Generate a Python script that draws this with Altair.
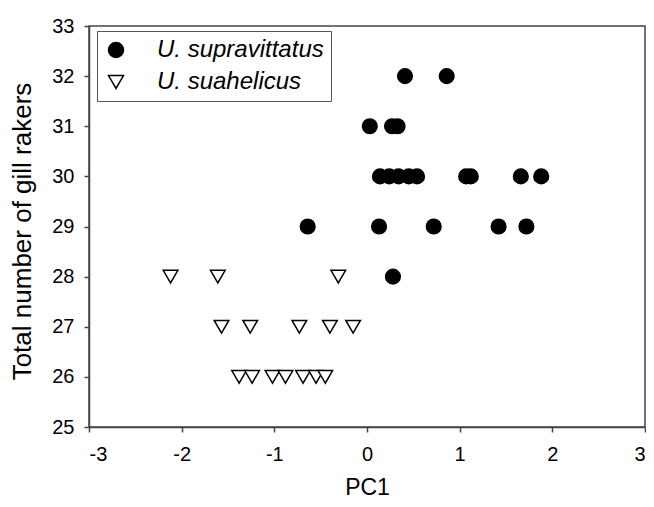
import altair as alt
import pandas as pd

species = ["U. supravittatus", "U. suahelicus"]

sup_x = [0.41, 0.86,
         0.03, 0.27, 0.33,
         0.14, 0.24, 0.34, 0.45, 0.54, 1.07, 1.12, 1.66, 1.88,
         -0.64, 0.13, 0.72, 1.42, 1.72,
         0.28]
sup_y = [32, 32,
         31, 31, 31,
         30, 30, 30, 30, 30, 30, 30, 30, 30,
         29, 29, 29, 29, 29,
         28]

sua_x = [-2.12, -1.61, -0.31,
         -1.57, -1.26, -0.73, -0.40, -0.15,
         -1.38, -1.24, -1.02, -0.88, -0.69, -0.55, -0.45]
sua_y = [28, 28, 28,
         27, 27, 27, 27, 27,
         26, 26, 26, 26, 26, 26, 26]

x_ticks = [-3, -2, -1, 0, 1, 2, 3]
y_ticks = [25, 26, 27, 28, 29, 30, 31, 32, 33]

df = pd.DataFrame({
    "PC1": sup_x + sua_x,
    "rakers": sup_y + sua_y,
    "species": [species[0]] * len(sup_x) + [species[1]] * len(sua_x),
})

FONT = "Liberation Sans"
AX = "#444444"

legend = alt.Legend(
    title=None,
    orient="none",
    legendX=8,
    legendY=5,
    padding=7,
    strokeColor="#555555",
    labelFont=FONT,
    labelFontSize=24,
    labelFontStyle="italic",
    labelColor="black",
    labelOffset=29,
    labelLimit=0,
    rowPadding=8,
    symbolSize=225,
    symbolStrokeColor="black",
    symbolStrokeWidth=1.5,
)

chart = alt.Chart(df).mark_point(
    size=215, strokeWidth=1.5, opacity=1
).encode(
    x=alt.X("PC1:Q",
            scale=alt.Scale(domain=[-3, 3], nice=False, zero=False),
            axis=alt.Axis(title="PC1", values=x_ticks,
                          labelExpr="'' + datum.value",
                          labelPadding=12, titleFontSize=23,
                          titleY=49, titleBaseline="top")),
    y=alt.Y("rakers:Q",
            scale=alt.Scale(domain=[25, 33], nice=False, zero=False),
            axis=alt.Axis(title="Total number of gill rakers", values=y_ticks,
                          labelExpr="'' + datum.value",
                          labelPadding=10, titleFontSize=26,
                          titleX=-54, titleY=205)),
    shape=alt.Shape("species:N",
                    scale=alt.Scale(domain=species, range=["circle", "triangle-down"]),
                    legend=legend),
    fill=alt.Fill("species:N",
                  scale=alt.Scale(domain=species, range=["black", "white"]),
                  legend=legend),
    stroke=alt.Stroke("species:N",
                      scale=alt.Scale(domain=species, range=["black", "black"]),
                      legend=legend),
).properties(
    width=556,
    height=401,
    autosize=alt.AutoSizeParams(type="none"),
    padding={"left": 81, "top": 18, "right": 1, "bottom": 71},
).configure_view(
    stroke=AX, strokeWidth=1.5
).configure_axis(
    grid=False,
    domainColor=AX,
    domainWidth=1.5,
    tickColor=AX,
    tickWidth=1.5,
    tickSize=5,
    labelFont=FONT,
    labelFontSize=20,
    labelColor="black",
    titleFont=FONT,
    titleColor="black",
    titleFontWeight="normal",
)

chart.save("out.html", embed_options={"renderer": "svg", "actions": False})
